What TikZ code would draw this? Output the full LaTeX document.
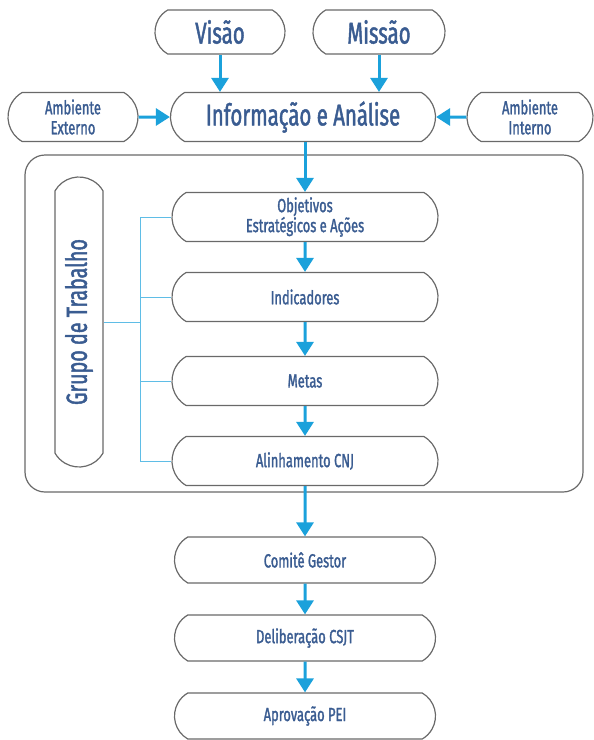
\documentclass[tikz,border=0pt]{standalone}
\usepackage{fontspec}
\setmainfont{Fira Sans}[FakeStretch=0.68, FakeBold=1.5]
\usetikzlibrary{arrows.meta,shapes.misc}
\definecolor{txtblue}{RGB}{58,92,145}
\definecolor{arrblue}{RGB}{27,161,219}
\definecolor{boxgray}{RGB}{105,105,105}
\tikzset{>={Triangle[width=17pt,length=14pt]},
  pill/.style={rounded rectangle, rounded rectangle arc length=120, draw=boxgray,
    line width=1.2pt, text=txtblue, inner sep=0pt, minimum height=49pt,
    align=center, font=\fontsize{19}{20}\selectfont},
  bigpill/.style={pill, font=\fontsize{30}{31}\selectfont},
  flow/.style={->, arrblue, line width=3pt},
  bus/.style={arrblue!70, line width=1pt}}

\begin{document}
\begin{tikzpicture}[x=1pt,y=-1pt]
\useasboundingbox (0,0) rectangle (594,740);
\node[bigpill, minimum width=130pt, minimum height=44pt] (visao) at (220,32) {Visão};
\node[bigpill, minimum width=132pt, minimum height=44pt] (missao) at (379,32) {Missão};
\node[bigpill, minimum width=265pt] (info) at (303,117) {Informação e Análise};
\node[pill, minimum width=130pt] (ambext) at (73,117) {Ambiente\\Externo};
\node[pill, minimum width=126pt] (ambint) at (530,117) {Ambiente\\Interno};
\draw[boxgray, line width=1.2pt, rounded corners=20pt] (25,155) rectangle (583,492);
\node[pill, rotate=90, minimum width=290pt, minimum height=48pt,
  font=\fontsize{29}{30}\selectfont] (grupo) at (79,322) {Grupo de Trabalho};
\node[pill, minimum width=266pt] (objetivos) at (305,217) {Objetivos\\Estratégicos e Ações};
\node[pill, minimum width=266pt] (indicadores) at (305,297) {Indicadores};
\node[pill, minimum width=266pt] (metas) at (305,381) {Metas};
\node[pill, minimum width=266pt] (alinhamento) at (305,461) {Alinhamento CNJ};
\node[pill, minimum width=261pt, minimum height=46pt] (comite) at (305,560) {Comitê Gestor};
\node[pill, minimum width=261pt, minimum height=46pt] (delib) at (305,638) {Deliberação CSJT};
\node[pill, minimum width=261pt, minimum height=46pt] (aprov) at (305,716) {Aprovação PEI};
\coordinate (bus) at (140,322);
\draw[flow] (visao.south) -- (visao.south |- info.north);
\draw[flow] (missao.south) -- (missao.south |- info.north);
\draw[flow] (ambext) -- (info);
\draw[flow] (ambint) -- (info);
\draw[flow] (info.south -| objetivos.north) -- (objetivos.north);
\draw[flow] (objetivos) -- (indicadores);
\draw[flow] (indicadores) -- (metas);
\draw[flow] (metas) -- (alinhamento);
\draw[flow] (alinhamento) -- (comite);
\draw[flow] (comite) -- (delib);
\draw[flow] (delib) -- (aprov);
\draw[bus] (grupo.south) -- (grupo.south -| bus);
\draw[bus] (objetivos.west -| bus) -- (alinhamento.west -| bus);
\foreach \n in {objetivos,indicadores,metas,alinhamento}
  \draw[bus] (\n.west -| bus) -- (\n.west);
\end{tikzpicture}
\end{document}
